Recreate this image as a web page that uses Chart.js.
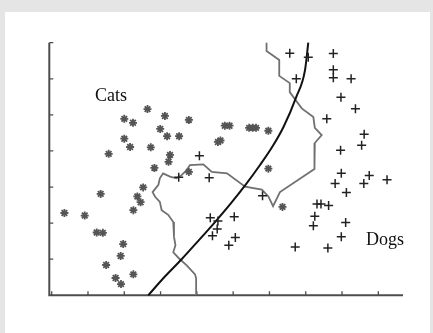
<!DOCTYPE html>
<html>
<head>
<meta charset="utf-8">
<title>Cats and Dogs</title>
<script src="https://cdn.jsdelivr.net/npm/chart.js@4.4.0/dist/chart.umd.min.js"></script>
<style>
  html, body { margin: 0; padding: 0; background: #e5e5e5; }
  #panel { position: absolute; left: 5px; top: 12px; width: 425px; height: 321px; background: #ffffff; }
  #chart { position: absolute; left: 0; top: 0; }
</style>
</head>
<body>
<div id="panel"></div>
<canvas id="chart" width="433" height="333"></canvas>
<script>
// Cats (asterisks)
const catX = [26.4, 20.0, 22.4, 31.2, 37.8, 29.9, 31.8, 35.1, 20.0, 21.6, 27.3, 15.7, 32.6, 32.2, 28.3, 37.8,
    47.7, 49.0, 54.4, 55.4, 56.3, 45.8, 46.5, 59.7, 59.7, 63.6, 25.2, 23.6, 24.5, 22.5, 13.5, 3.5, 9.1,
    12.4, 14.1, 19.7, 19.0, 15.0, 22.5, 17.6, 19.1];
const catY = [51.6, 48.9, 47.8, 49.7, 48.6, 46.1, 44.1, 44.1, 43.4, 41.1, 41.0, 39.2, 38.9, 37.0, 35.3, 34.2,
    47.0, 47.0, 46.4, 46.4, 46.4, 42.5, 42.9, 45.6, 35.1, 24.5, 29.9, 27.4, 25.8, 23.6, 28.1, 22.8, 22.1,
    17.4, 17.3, 14.2, 10.9, 8.4, 5.8, 4.8, 3.1];

// Dogs (plus signs)
const dogX = [65.6, 70.7, 77.6, 77.6, 77.6, 67.4, 82.5, 79.7, 83.7, 75.8, 86.1, 85.4, 79.6, 79.8, 78.1, 87.5,
    86.0, 92.4, 81.2, 73.1, 74.2, 76.3, 72.5, 72.1, 81.0, 79.8, 67.1, 76.1, 40.7, 35.0, 43.4, 58.1,
    43.7, 45.8, 45.6, 44.3, 50.3, 50.6, 48.8];
const dogY = [67.1, 66.0, 67.0, 62.5, 60.3, 60.0, 60.0, 54.9, 51.7, 48.9, 44.6, 41.6, 40.2, 33.8, 31.0, 33.2,
    31.0, 32.0, 28.5, 25.3, 25.3, 24.9, 21.9, 19.3, 20.2, 16.2, 13.4, 13.1, 38.7, 32.7, 32.6, 27.6,
    21.5, 20.6, 18.4, 16.5, 21.8, 16.0, 13.9];

// Smooth decision curve
const curveX = [26.6, 31.2, 35.8, 40.4, 45.0, 49.3, 53.4, 57.4, 61.0, 63.9, 67.4, 69.8, 70.7];
const curveY = [0, 5.2, 10.0, 15.1, 20.3, 25.4, 30.6, 36.1, 41.5, 46.7, 55.0, 62.4, 70];

// Jagged boundary (nearest neighbour)
const edgeX = [59.2, 59.2, 62.7, 62.7, 65.6, 65.6, 68.9, 72.1, 72.5, 74.4, 72.5, 72.4, 62.9, 61.0, 59.7, 57.9,
    53.3, 48.3, 44.1, 41.8, 38.1, 37.2, 35.8, 34.4, 32.6, 30.7, 29.8, 29.4, 27.8, 28.5, 29.8, 30.3, 32.1,
    33.5, 33.7, 34.1, 33.5, 35.1, 37.2, 39.5, 39.8, 39.8];
const edgeY = [70, 67.7, 65.2, 60.8, 58.8, 56.3, 51.8, 49.4, 46.4, 44.4, 42.2, 35.0, 28.6, 24.7, 27.4, 29.3,
    30.1, 33.8, 34.2, 36.3, 36.1, 34.7, 33.3, 32.4, 32.9, 33.8, 32.4, 30.6, 28.6, 27.3, 25.9, 23.6, 22.3,
    20.3, 16.2, 13.9, 11.9, 10.2, 8.3, 5.8, 4.7, 0];

// Axis ticks and text labels
const xTicks = [0, 10, 20, 30, 40, 50, 60, 70, 80, 90];
const yTicks = [10, 20, 30, 40, 50, 60, 70];
const labelText = ['Cats', 'Dogs'];
const labelX = [11.9, 86.6];
const labelY = [53.8, 13.9];

function toPoints(xs, ys) {
    return xs.map((v, i) => ({ x: v, y: ys[i] }));
}

// Draws the two axis lines and their inward tick marks
const axesPlugin = {
    id: 'axes',
    beforeDatasetsDraw(chart) {
        const { ctx, chartArea: area, scales: { x, y } } = chart;
        ctx.save();
        ctx.strokeStyle = '#4d4d4d';
        ctx.lineWidth = 2;
        ctx.beginPath();
        ctx.moveTo(area.left, area.top);
        ctx.lineTo(area.left, area.bottom);
        ctx.lineTo(area.right, area.bottom);
        ctx.stroke();

        ctx.lineWidth = 1.3;
        ctx.beginPath();
        xTicks.forEach(v => {
            const px = x.getPixelForValue(v);
            ctx.moveTo(px, area.bottom);
            ctx.lineTo(px, area.bottom - 4);
        });
        yTicks.forEach(v => {
            const py = y.getPixelForValue(v);
            ctx.moveTo(area.left, py);
            ctx.lineTo(area.left + 4, py);
        });
        ctx.stroke();
        ctx.restore();
    }
};

// Class names written inside the plot
const labelPlugin = {
    id: 'classLabels',
    afterDatasetsDraw(chart) {
        const { ctx, scales: { x, y } } = chart;
        ctx.save();
        ctx.fillStyle = '#111111';
        ctx.font = '18px "Liberation Serif", "Times New Roman", serif';
        ctx.textBaseline = 'alphabetic';
        labelText.forEach((t, i) => {
            ctx.fillText(t, x.getPixelForValue(labelX[i]), y.getPixelForValue(labelY[i]));
        });
        ctx.restore();
    }
};

const ctx = document.getElementById('chart').getContext('2d');
new Chart(ctx, {
    type: 'scatter',
    data: {
        datasets: [
            {
                label: 'boundary',
                data: toPoints(edgeX, edgeY),
                showLine: true,
                borderColor: '#707070',
                borderWidth: 1.8,
                pointRadius: 0,
                tension: 0,
                clip: false,
                order: 4
            },
            {
                label: 'curve',
                data: toPoints(curveX, curveY),
                showLine: true,
                borderColor: '#111111',
                borderWidth: 2,
                pointRadius: 0,
                cubicInterpolationMode: 'monotone',
                clip: false,
                order: 3
            },
            {
                label: 'Cats',
                data: toPoints(catX, catY),
                pointStyle: 'star',
                pointRadius: 4,
                borderColor: '#555555',
                borderWidth: 1.8,
                backgroundColor: '#555555',
                order: 2
            },
            {
                label: 'Dogs',
                data: toPoints(dogX, dogY),
                pointStyle: 'cross',
                pointRadius: 4.5,
                borderColor: '#222222',
                borderWidth: 1.5,
                order: 1
            }
        ]
    },
    options: {
        responsive: false,
        animation: false,
        devicePixelRatio: 1,
        layout: {
            padding: { left: 49.3, right: 30, top: 42.7, bottom: 37.7 }
        },
        plugins: {
            legend: { display: false },
            tooltip: { enabled: false }
        },
        scales: {
            x: { type: 'linear', min: -0.66, max: 96.8, display: false },
            y: { type: 'linear', min: 0, max: 70, display: false }
        }
    },
    plugins: [axesPlugin, labelPlugin]
});
</script>
</body>
</html>
